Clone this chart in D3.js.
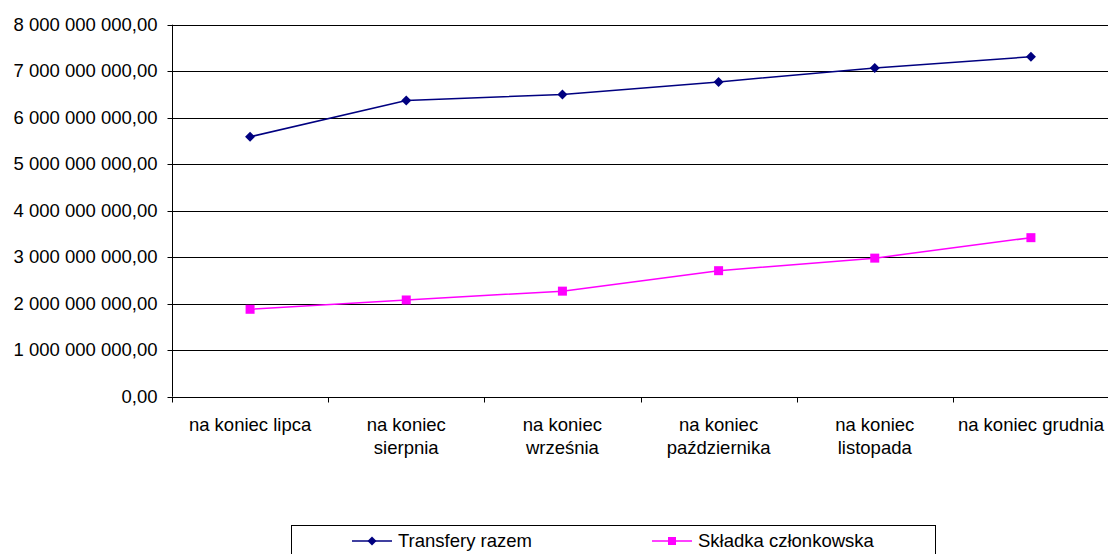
<!DOCTYPE html>
<html><head><meta charset="utf-8">
<script src="https://cdn.jsdelivr.net/npm/d3@7"></script>
<style>body{margin:0;background:#fff}svg{display:block;font-family:"Liberation Sans",Arial,sans-serif}</style>
</head><body><svg id="c" width="1108" height="554"></svg>
<script>
const categories = ["na koniec lipca","na koniec\nsierpnia","na koniec\nwrześnia","na koniec\npaździernika","na koniec\nlistopada","na koniec grudnia"];
const transfery = [5.59e9, 6.37e9, 6.50e9, 6.77e9, 7.07e9, 7.31e9];
const skladka = [1.88e9, 2.08e9, 2.27e9, 2.71e9, 2.98e9, 3.42e9];
const yTicks = [0,1e9,2e9,3e9,4e9,5e9,6e9,7e9,8e9];
const seriesNames = ["Transfery razem","Składka członkowska"];

const FS = 18.5;
const svg = d3.select("#c");
const L=172, R=1109, T=24.7, B=396.7;
const x = d3.scaleBand().domain(categories).range([L,R]);
const y = d3.scaleLinear().domain([0,8e9]).range([B,T]);

function fmt(v){
  const s = Math.round(v).toString().replace(/\B(?=(\d{3})+(?!\d))/g," ");
  return s+",00";
}

// gridlines
svg.append("g").selectAll("line").data(yTicks.slice(1)).join("line")
  .attr("x1",L).attr("x2",R).attr("y1",d=>Math.round(y(d))+0.5).attr("y2",d=>Math.round(y(d))+0.5)
  .attr("stroke","#000").attr("stroke-width",1);

// y axis
const ya = svg.append("g").attr("transform",`translate(${L+0.5},0)`)
  .call(d3.axisLeft(y).tickValues(yTicks).tickFormat(fmt).tickSize(5).tickPadding(10).offset(0));
ya.attr("font-size",FS).attr("font-family","Liberation Sans, Arial, sans-serif");
ya.select(".domain").attr("d",`M0,${T}V${B}`).attr("stroke","#000");
ya.selectAll(".tick text").attr("font-size",FS).attr("fill","#000");
ya.selectAll(".tick").attr("transform",d=>`translate(0,${Math.round(y(d))+0.5})`);

// x axis
const xa = svg.append("g").attr("transform",`translate(0,${Math.round(B)+0.5})`);
xa.append("line").attr("x1",L).attr("x2",R).attr("stroke","#000");
const edges = categories.map(c=>x(c)).concat([R]);
xa.selectAll("line.t").data(edges).join("line").attr("class","t")
  .attr("x1",d=>Math.round(d)+0.5).attr("x2",d=>Math.round(d)+0.5).attr("y1",0).attr("y2",5).attr("stroke","#000");
const xl = xa.selectAll("text").data(categories).join("text")
  .attr("x",d=>x(d)+x.bandwidth()/2).attr("y",33)
  .attr("text-anchor","middle").attr("font-size",FS).attr("fill","#000");
xl.each(function(d){
  const lines = d.split("\n");
  d3.select(this).selectAll("tspan").data(lines).join("tspan")
    .attr("x",x(d)+x.bandwidth()/2).attr("dy",(l,i)=>i===0?0:23).text(l=>l);
});

const cx = c=>x(c)+x.bandwidth()/2;
const line = d3.line().x((d,i)=>cx(categories[i])).y(d=>y(d));

svg.append("path").datum(transfery).attr("d",line).attr("fill","none").attr("stroke","#000080").attr("stroke-width",1.5);
svg.append("path").datum(skladka).attr("d",line).attr("fill","none").attr("stroke","#FF00FF").attr("stroke-width",1.5);

svg.append("g").selectAll("path").data(transfery).join("path")
  .attr("d",d3.symbol().type(d3.symbolSquare).size(50))
  .attr("transform",(d,i)=>`translate(${cx(categories[i])},${y(d)}) rotate(45)`)
  .attr("fill","#000080");
svg.append("g").selectAll("rect").data(skladka).join("rect")
  .attr("x",(d,i)=>cx(categories[i])-4.5).attr("y",d=>y(d)-4.5).attr("width",9).attr("height",9)
  .attr("fill","#FF00FF");

// legend
const lg = svg.append("g");
lg.append("rect").attr("x",291.5).attr("y",525.5).attr("width",644).attr("height",40).attr("fill","#fff").attr("stroke","#000");
const lx = [352,652], colors=["#000080","#FF00FF"];
seriesNames.forEach((n,i)=>{
  lg.append("line").attr("x1",lx[i]).attr("x2",lx[i]+40).attr("y1",541).attr("y2",541).attr("stroke",colors[i]).attr("stroke-width",1.5);
  if(i===0){
    lg.append("path").attr("d",d3.symbol().type(d3.symbolSquare).size(40)).attr("transform",`translate(${lx[i]+20},541) rotate(45)`).attr("fill",colors[i]);
  } else {
    lg.append("rect").attr("x",lx[i]+16).attr("y",537).attr("width",8).attr("height",8).attr("fill",colors[i]);
  }
  lg.append("text").attr("x",lx[i]+46).attr("y",547).attr("font-size",FS).attr("fill","#000").text(n);
});
</script></body></html>
